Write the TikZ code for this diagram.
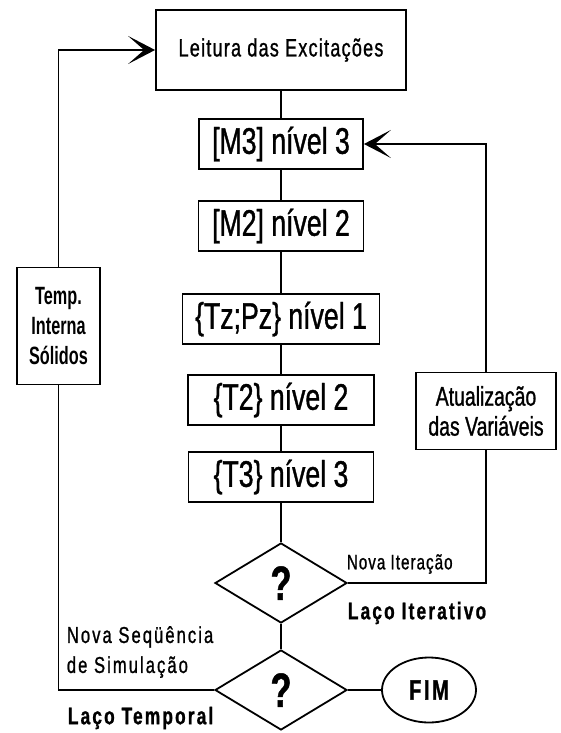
\documentclass[tikz,border=0pt]{standalone}
\usepackage{fontspec}
\setmainfont{Liberation Sans}[FakeStretch=0.72, FakeBold=1]
\newfontfamily\spacedfont{Liberation Sans}[FakeStretch=0.72, LetterSpace=5, FakeBold=1]
\newfontfamily\widefont{Liberation Sans}[FakeStretch=0.72, LetterSpace=9, FakeBold=1]
\newfontfamily\narrowfont{Liberation Sans}[FakeStretch=0.65]
\usetikzlibrary{arrows.meta, shapes.geometric}

\tikzset{
    frame/.style={draw, line width=1.8pt, inner sep=0pt, align=center},
    levelbox/.style={frame, minimum height=50pt, font=\fontsize{37}{37}\selectfont},
    decision/.style={frame, diamond, aspect=1.6, minimum width=132pt, minimum height=80pt,
        font=\bfseries\fontsize{48}{48}\selectfont},
    loopname/.style={anchor=west, inner sep=0pt, font=\widefont\bfseries\fontsize{24}{24}\selectfont}
}

\begin{document}
\begin{tikzpicture}[x=1pt, y=-1pt, line width=1.8pt,
    >={Stealth[length=27pt, width=28pt, inset=16pt]}]
    \useasboundingbox (0,0) rectangle (561,733);

    % Main column
    \node (leitura) [frame, minimum width=250pt, minimum height=80pt,
        font=\spacedfont\fontsize{25}{25}\selectfont] at (281,50) {Leitura das Excitações};
    \node (m3) [levelbox, minimum width=164pt] at (281,144) {[M3] nível 3};
    \node (m2) [levelbox, minimum width=165pt] at (281,226) {[M2] nível 2};
    \node (tzpz) [levelbox, minimum width=197pt] at (281,319) {\{Tz;Pz\} nível 1};
    \node (t2) [levelbox, minimum width=186pt] at (281,400) {\{T2\} nível 2};
    \node (t3) [levelbox, minimum width=185pt] at (281,477) {\{T3\} nível 3};

    % Decisions
    \node (iter) [decision] at (281,583) {?};
    \node (tempo) [decision] at (281,690) {?};
    \node (fim) [frame, ellipse, minimum width=94pt, minimum height=65pt,
        font=\widefont\bfseries\fontsize{28}{28}\selectfont] at (429,690) {FIM};

    % Side boxes
    \node (solidos) [frame, minimum width=83pt, minimum height=117pt,
        font=\narrowfont\bfseries\fontsize{25}{30}\selectfont] at (58.5,326) {Temp.\\Interna\\Sólidos};
    \node (atual) [frame, minimum width=140pt, minimum height=77pt,
        font=\fontsize{27}{30}\selectfont] at (486,411) {Atualização\\das Variáveis};

    % Labels
    \node (novait) [anchor=west, inner sep=0pt, font=\spacedfont\fontsize{21}{21}\selectfont]
        at (346,564) {Nova Iteração};
    \node (lacoit) [loopname] at (347,613) {Laço Iterativo};
    \node (novaseq) [anchor=west, inner sep=0pt, align=left,
        font=\widefont\fontsize{23}{30}\selectfont] at (66,652) {Nova Seqüência\\de Simulação};
    \node (lacotemp) [loopname] at (67,718) {Laço Temporal};

    % Connectors
    \foreach \a/\b in {leitura/m3, m3/m2, m2/tzpz, tzpz/t2, t2/t3, t3/iter, iter/tempo, tempo/fim}
        \draw (\a) -- (\b);
    \draw (iter.east) -| (atual.south);
    \draw[->] (atual.north) |- (m3.east);
    \draw (tempo.west) -| (solidos.south);
    \draw[->] (solidos.north) |- (leitura.west);
\end{tikzpicture}
\end{document}
